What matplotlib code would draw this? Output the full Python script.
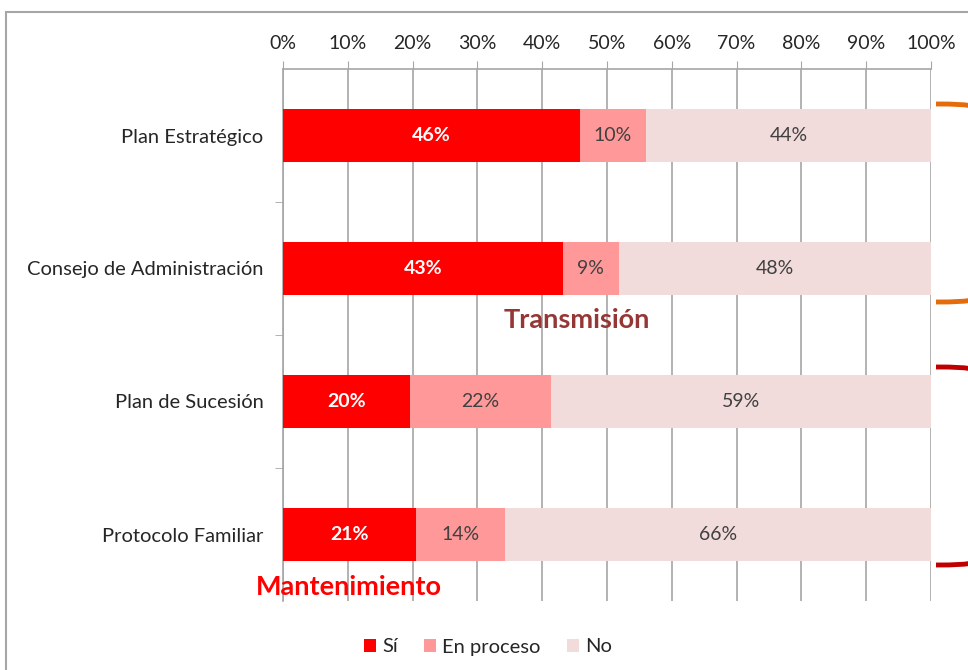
import matplotlib
matplotlib.use('Agg')
from matplotlib import pyplot as plt
from matplotlib.patches import Rectangle, PathPatch
from matplotlib.path import Path
import numpy as np

plt.rcParams['font.family'] = ['Lato', 'DejaVu Sans']

categories = ['Plan Estratégico', 'Consejo de Administración',
              'Plan de Sucesión', 'Protocolo Familiar']
si = [45.8, 43.2, 19.6, 20.6]
en_proceso = [10.2, 8.6, 21.8, 13.7]
no = [44.0, 48.2, 58.6, 65.7]
series_names = ['Sí', 'En proceso', 'No']
colors = ['#FF0000', '#FF9999', '#F2DCDB']
label_colors = ['white', '#404040', '#404040']
xticks = np.arange(0, 101, 10)


def main():
    W, H = 968, 670
    fig = plt.figure(figsize=(W / 100, H / 100), dpi=100)

    # outer chart frame (cut off at right/bottom like the screenshot)
    fig.patches.append(Rectangle((6 / W, -0.1), 1.2, 1 - 12 / H + 0.1,
                                 transform=fig.transFigure, fill=False,
                                 edgecolor='#A6A6A6', linewidth=1.5))

    ax = fig.add_axes([283 / W, 1 - 601 / H, 648 / W, 532 / H])
    y = np.arange(len(categories))
    data = [si, en_proceso, no]
    left = np.zeros(len(categories))
    for vals, name, c, lc in zip(data, series_names, colors, label_colors):
        bars = ax.barh(y, vals, left=left, height=0.4, color=c, label=name, zorder=3)
        for b, v in zip(bars, vals):
            ax.text(b.get_x() + b.get_width() / 2, b.get_y() + b.get_height() / 2,
                    f'{v:.0f}%', ha='center', va='center', color=lc, fontsize=14,
                    fontweight='bold' if lc == 'white' else 'normal', zorder=4)
        left += np.array(vals)

    ax.set_xlim(0, 100)
    ax.set_ylim(len(categories) - 0.5, -0.5)
    ax.xaxis.tick_top()
    ax.set_xticks(xticks)
    ax.set_xticklabels([f'{t}%' for t in xticks], fontsize=14, color='#262626')
    ax.tick_params(axis='x', length=6, color='#A6A6A6', pad=6)
    ax.grid(axis='x', color='#A6A6A6', linewidth=1.2, zorder=0)

    ax.set_yticks(y)
    ax.set_yticklabels(categories, fontsize=14.5, color='#262626')
    ax.set_yticks(np.arange(0.5, len(categories) - 1, 1), minor=True)
    ax.tick_params(axis='y', which='major', length=0, pad=14)
    ax.tick_params(axis='y', which='minor', length=6, color='#A6A6A6')

    for s in ['right', 'bottom']:
        ax.spines[s].set_visible(False)
    for s in ['top', 'left']:
        ax.spines[s].set_color('#A6A6A6')
        ax.spines[s].set_linewidth(1.2)

    fig.text(577 / W, 1 - 320 / H, 'Transmisión', color='#953735', fontsize=19.5,
             fontweight='bold', ha='center', va='center')
    fig.text(349 / W, 1 - 587 / H, 'Mantenimiento', color='#FF0000', fontsize=19.5,
             fontweight='bold', ha='center', va='center')

    # brace ends at the right edge (mostly cut off)
    def brace(y0, y1, col):
        for ya, sgn in [(y0, 1), (y1, -1)]:
            verts = [(936 / W, 1 - ya / H), (955 / W, 1 - ya / H),
                     (963 / W, 1 - (ya + sgn * 0.5) / H), (969 / W, 1 - (ya + sgn * 1.5) / H)]
            p = Path(verts, [Path.MOVETO, Path.CURVE4, Path.CURVE4, Path.CURVE4])
            fig.patches.append(PathPatch(p, transform=fig.transFigure, fill=False,
                                         edgecolor=col, linewidth=3.5))
    brace(104, 302, '#E46C0A')
    brace(367, 565, '#C00000')

    leg = fig.legend(loc='center', bbox_to_anchor=(488 / W, 1 - 647 / H), ncol=3,
                     frameon=False, fontsize=14.5, handlelength=0.6, handleheight=0.6,
                     handletextpad=0.3, columnspacing=1.3)
    for t in leg.get_texts():
        t.set_color('#262626')

    plt.savefig('out.png', dpi=100)


if __name__ == '__main__':
    main()
